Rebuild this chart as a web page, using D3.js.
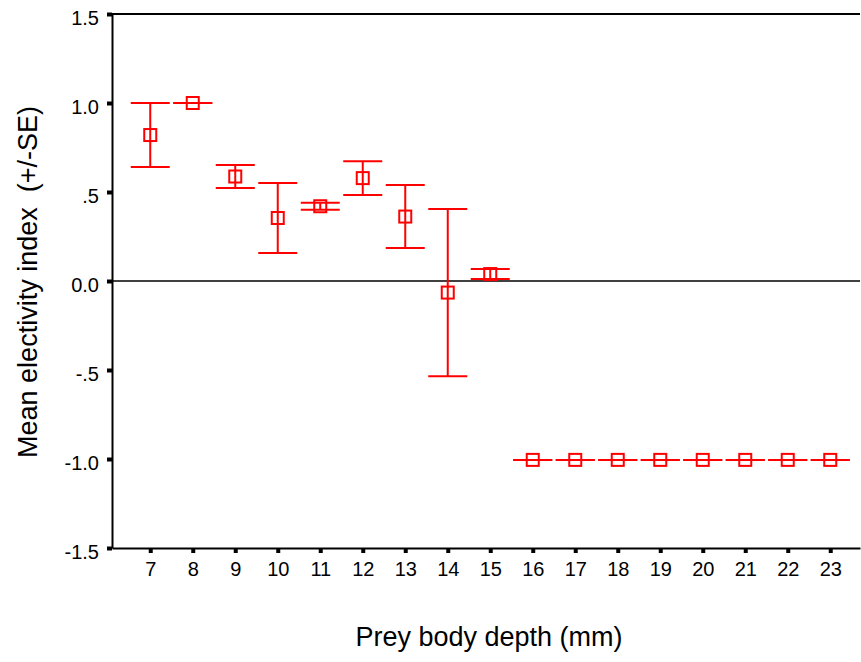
<!DOCTYPE html>
<html>
<head>
<meta charset="utf-8">
<script src="https://cdn.jsdelivr.net/npm/d3@7"></script>
<style>
  html, body { margin: 0; padding: 0; background: #fff; }
  svg { display: block; font-family: "Liberation Sans", Arial, Helvetica, sans-serif; }
</style>
</head>
<body>
<svg id="chart" width="861" height="662"></svg>
<script>
// ---- data ----
const categories = [7, 8, 9, 10, 11, 12, 13, 14, 15, 16, 17, 18, 19, 20, 21, 22, 23];
const means = [0.82, 1.00, 0.587, 0.354, 0.42, 0.578, 0.362, -0.065, 0.039, -1.005, -1.005, -1.005, -1.005, -1.005, -1.005, -1.005, -1.005];
const se = [0.18, 0.0, 0.065, 0.197, 0.02, 0.095, 0.177, 0.47, 0.028, 0, 0, 0, 0, 0, 0, 0, 0];
const yTickValues = [-1.5, -1.0, -0.5, 0.0, 0.5, 1.0, 1.5];
const yTickLabels = ["-1.5", "-1.0", "-.5", "0.0", ".5", "1.0", "1.5"];
const xTitle = "Prey body depth (mm)";
const yTitle = "Mean electivity index  (+/-SE)";

// ---- layout ----
const mLeft = 112, mRight = 860, mTop = 14, mBottom = 548;
const svg = d3.select("#chart");

const x = d3.scaleLinear().domain([6.1, 23.7]).range([mLeft, mRight]);
const y = d3.scaleLinear().domain([-1.5, 1.5]).range([mBottom, mTop]);

// top frame line
svg.append("line")
  .attr("x1", mLeft).attr("x2", mRight)
  .attr("y1", y(1.5)).attr("y2", y(1.5))
  .attr("stroke", "#000").attr("stroke-width", 2);

// zero reference line
svg.append("line")
  .attr("x1", mLeft).attr("x2", mRight)
  .attr("y1", y(0)).attr("y2", y(0))
  .attr("stroke", "#000").attr("stroke-width", 1.5);

// y axis
const yAxis = d3.axisLeft(y)
  .tickValues(yTickValues)
  .tickFormat((d, i) => yTickLabels[i])
  .tickSize(5).tickSizeOuter(0).tickPadding(8);
const gy = svg.append("g").attr("transform", `translate(${mLeft},0)`).call(yAxis);
gy.select(".domain").attr("stroke", "#000").attr("stroke-width", 2);
gy.selectAll(".tick line").attr("stroke", "#000").attr("stroke-width", 4);
gy.selectAll(".tick text").attr("font-size", 20).attr("fill", "#000")
  .attr("font-family", "Liberation Sans, Arial, sans-serif").attr("dy", "0.5em");

// x axis
const xAxis = d3.axisBottom(x)
  .tickValues(categories)
  .tickFormat(d3.format("d"))
  .tickSize(5).tickSizeOuter(0).tickPadding(9);
const gx = svg.append("g").attr("transform", `translate(0,${mBottom})`).call(xAxis);
gx.select(".domain").attr("stroke", "#000").attr("stroke-width", 2);
gx.selectAll(".tick line").attr("stroke", "#000").attr("stroke-width", 4)
  .attr("y1", 1).attr("y2", 5);
gx.selectAll(".tick text").attr("font-size", 20).attr("fill", "#000")
  .attr("font-family", "Liberation Sans, Arial, sans-serif");

// error bars
const data = categories.map((c, i) => ({ c, m: means[i], s: se[i] }));
const capHalf = 19.5;
const red = "#ff0000";
const g = svg.append("g");

g.selectAll("line.stem").data(data.filter(d => d.s > 0)).join("line")
  .attr("class", "stem")
  .attr("x1", d => x(d.c)).attr("x2", d => x(d.c))
  .attr("y1", d => y(d.m + d.s)).attr("y2", d => y(d.m - d.s))
  .attr("stroke", red).attr("stroke-width", 2);

g.selectAll("line.capU").data(data).join("line")
  .attr("class", "capU")
  .attr("x1", d => x(d.c) - capHalf).attr("x2", d => x(d.c) + capHalf)
  .attr("y1", d => y(d.m + d.s)).attr("y2", d => y(d.m + d.s))
  .attr("stroke", red).attr("stroke-width", 2);

g.selectAll("line.capL").data(data).join("line")
  .attr("class", "capL")
  .attr("x1", d => x(d.c) - capHalf).attr("x2", d => x(d.c) + capHalf)
  .attr("y1", d => y(d.m - d.s)).attr("y2", d => y(d.m - d.s))
  .attr("stroke", red).attr("stroke-width", 2);

const sq = 12;
g.selectAll("rect.mk").data(data).join("rect")
  .attr("class", "mk")
  .attr("x", d => x(d.c) - sq / 2).attr("y", d => y(d.m) - sq / 2)
  .attr("width", sq).attr("height", sq)
  .attr("fill", "none").attr("stroke", red).attr("stroke-width", 2);

// axis titles
svg.append("text")
  .attr("x", 489).attr("y", 646)
  .attr("text-anchor", "middle")
  .attr("font-size", 27).attr("fill", "#000")
  .text(xTitle);

svg.append("text")
  .attr("transform", "translate(37,282) rotate(-90)")
  .attr("text-anchor", "middle")
  .attr("font-size", 27).attr("fill", "#000")
  .style("white-space", "pre")
  .text(yTitle);
</script>
</body>
</html>
